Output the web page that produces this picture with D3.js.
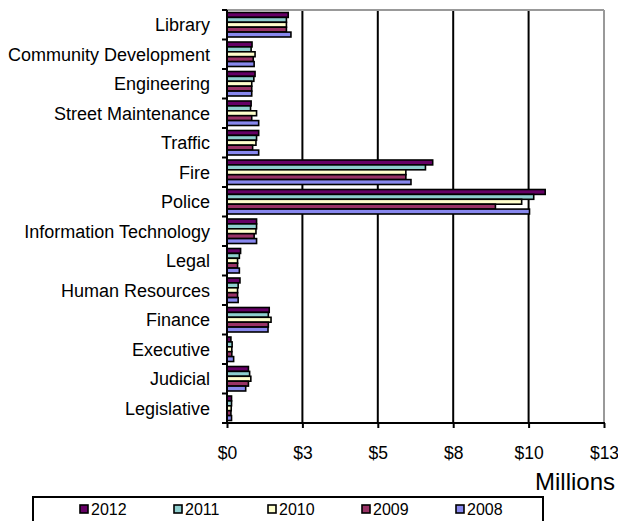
<!DOCTYPE html>
<html><head><meta charset="utf-8">
<script src="https://cdn.jsdelivr.net/npm/d3@7"></script>
<style>body{margin:0;background:#fff;}svg{display:block;font-family:"Liberation Sans",Arial,sans-serif;}</style>
</head><body><svg id="c" width="618" height="521"></svg>
<script>
const categories = ["Library","Community Development","Engineering","Street Maintenance","Traffic","Fire","Police","Information Technology","Legal","Human Resources","Finance","Executive","Judicial","Legislative"];
const years = ["2012","2011","2010","2009","2008"];
const v2012 = [2.03, 0.83, 0.93, 0.80, 1.05, 6.82, 10.55, 0.98, 0.45, 0.43, 1.40, 0.13, 0.71, 0.15];
const v2011 = [1.97, 0.80, 0.89, 0.78, 0.98, 6.58, 10.17, 0.98, 0.41, 0.37, 1.37, 0.17, 0.75, 0.15];
const v2010 = [1.97, 0.93, 0.82, 0.98, 0.96, 5.93, 9.77, 0.96, 0.35, 0.35, 1.46, 0.16, 0.79, 0.14];
const v2009 = [1.97, 0.87, 0.82, 0.82, 0.85, 5.93, 8.90, 0.90, 0.35, 0.35, 1.37, 0.16, 0.71, 0.13];
const v2008 = [2.12, 0.90, 0.82, 1.05, 1.05, 6.10, 10.03, 0.98, 0.41, 0.37, 1.36, 0.22, 0.62, 0.15];
const seriesValues = [v2012, v2011, v2010, v2009, v2008];
const colors = ["#660066", "#8fcfcf", "#ffffcc", "#993366", "#8888ee"];
const tickValues = [0, 2.5, 5, 7.5, 10, 12.5];
const tickLabels = ["$0", "$3", "$5", "$8", "$10", "$13"];

const svg = d3.select("#c");
const L = 227, R = 604, T = 10, B = 423;
const x = d3.scaleLinear().domain([0, 12.5]).range([L, R]);
const y = d3.scaleBand().domain(categories).range([T, B]).paddingInner(0.17).paddingOuter(0.085);
const yInner = d3.scaleBand().domain(years).range([0, y.bandwidth()]);

// gridlines
svg.append("g").selectAll("line").data(tickValues.slice(1, -1)).join("line")
  .attr("x1", d => x(d)).attr("x2", d => x(d)).attr("y1", T).attr("y2", B)
  .attr("stroke", "#000").attr("stroke-width", 2);
// plot frame top/right
svg.append("line").attr("x1", L).attr("x2", R).attr("y1", T).attr("y2", T).attr("stroke", "#999").attr("stroke-width", 2);
svg.append("line").attr("x1", R).attr("x2", R).attr("y1", T).attr("y2", B).attr("stroke", "#999").attr("stroke-width", 2);

// bars
years.forEach((yr, si) => {
  svg.append("g").selectAll("rect").data(categories).join("rect")
    .attr("x", x(0))
    .attr("y", (c) => y(c) + yInner(yr))
    .attr("width", (c, i) => x(seriesValues[si][i]) - x(0))
    .attr("height", yInner.bandwidth())
    .attr("fill", colors[si]).attr("stroke", "#000").attr("stroke-width", 1.6);
});

// x axis
const xAxis = d3.axisBottom(x).tickValues(tickValues).tickFormat((d, i) => tickLabels[i]).tickSize(5).tickPadding(19);
const gx = svg.append("g").attr("transform", `translate(0,${B})`).call(xAxis);
gx.select(".domain").attr("stroke", "#000").attr("stroke-width", 2).attr("d", `M${L-5},0H${R+1}`);
gx.selectAll(".tick line").attr("stroke", "#000").attr("stroke-width", 2);
gx.selectAll(".tick text").attr("font-size", 17.5).attr("fill", "#000").attr("font-family", "Liberation Sans, Arial, sans-serif");

// y axis with ticks at category boundaries
const gy = svg.append("g");
gy.append("line").attr("x1", L).attr("x2", L).attr("y1", T).attr("y2", B).attr("stroke", "#000").attr("stroke-width", 2);
const bounds = d3.range(categories.length + 1).map(i => T + i * (B - T) / categories.length);
gy.selectAll("line.t").data(bounds).join("line").attr("class", "t")
  .attr("x1", L - 5).attr("x2", L).attr("y1", d => d).attr("y2", d => d)
  .attr("stroke", "#000").attr("stroke-width", 2);
gy.selectAll("text").data(categories).join("text")
  .attr("x", 210).attr("y", c => y(c) + y.bandwidth() / 2 + 6.5)
  .attr("text-anchor", "end").attr("font-size", 18).attr("fill", "#000")
  .text(c => c);

// units label
svg.append("text").attr("x", 615).attr("y", 490).attr("text-anchor", "end").attr("font-size", 24).text("Millions");

// legend
svg.append("rect").attr("x", 33).attr("y", 497).attr("width", 510).attr("height", 40)
  .attr("fill", "#fff").attr("stroke", "#000").attr("stroke-width", 2);
const lg = svg.append("g").selectAll("g").data(years).join("g")
  .attr("transform", (d, i) => `translate(${80 + i * 94},505)`);
lg.append("rect").attr("width", 8).attr("height", 8).attr("fill", (d, i) => colors[i]).attr("stroke", "#000").attr("stroke-width", 1.6);
lg.append("text").attr("x", 11).attr("y", 10).attr("font-size", 16).text(d => d);
</script>
</body></html>
